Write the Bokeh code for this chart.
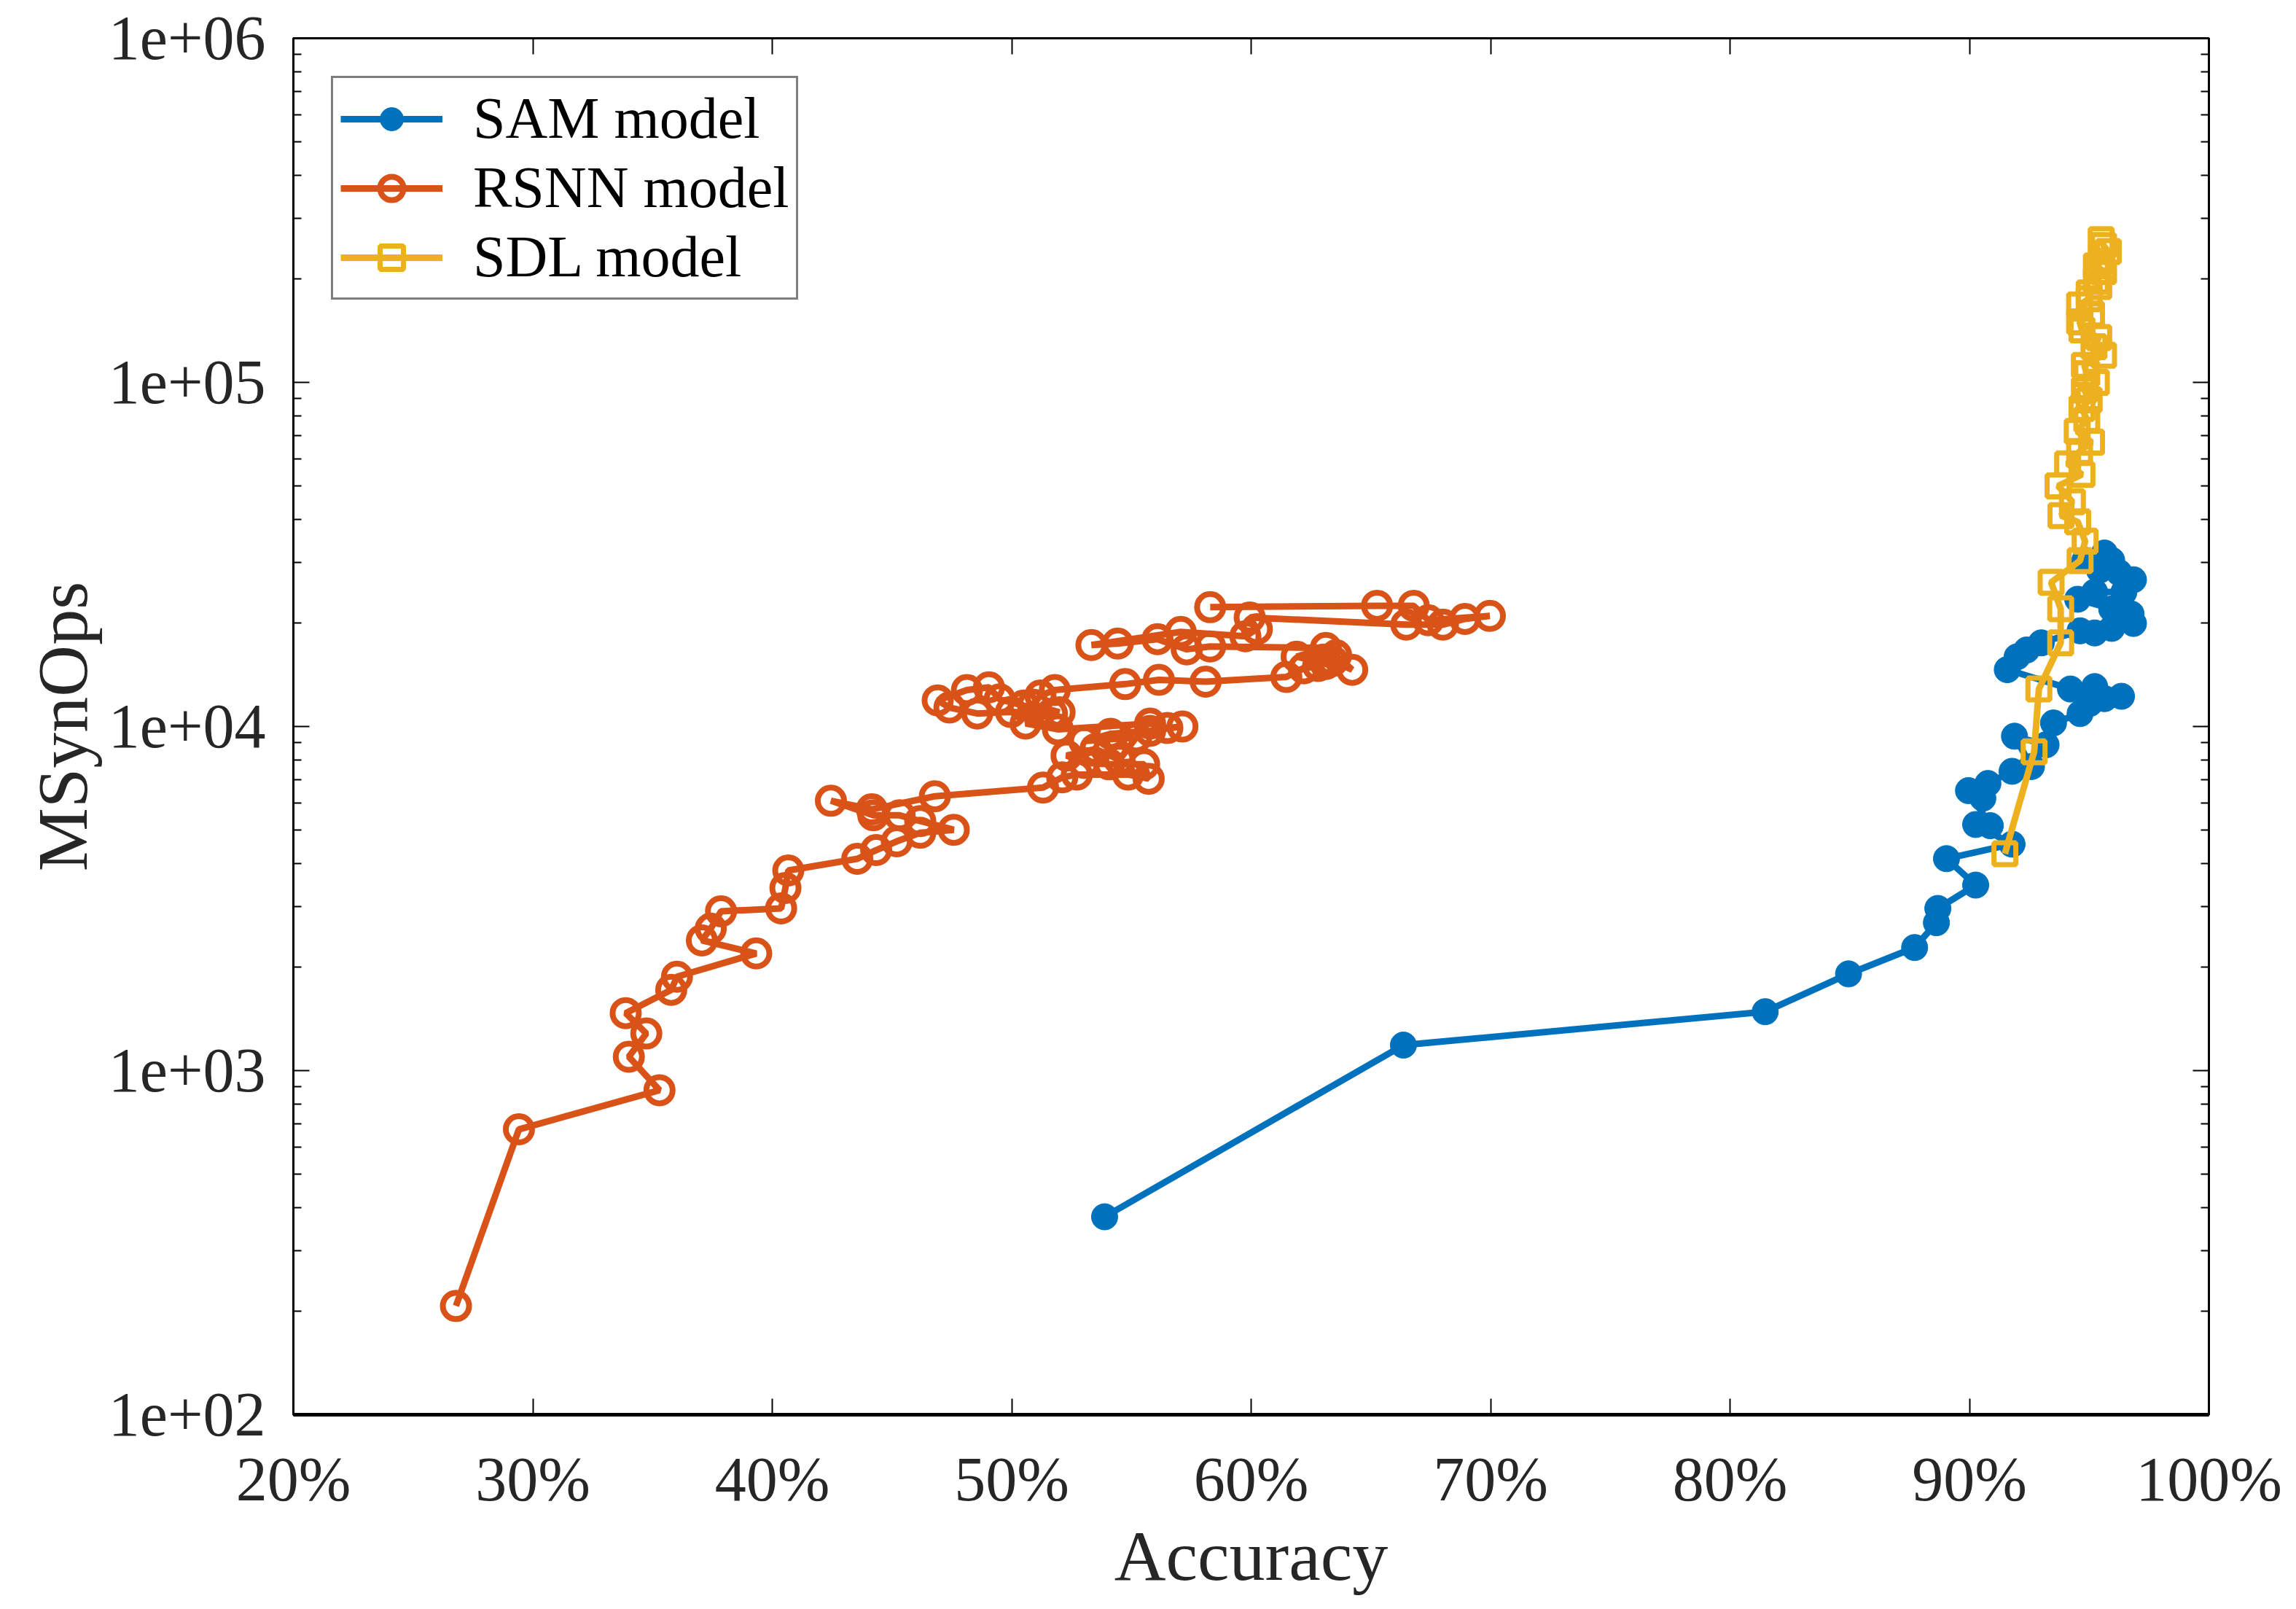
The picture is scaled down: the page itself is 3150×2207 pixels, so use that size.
from bokeh.plotting import figure
from bokeh.models import Range1d, FixedTicker, LinearAxis, LogAxis
from bokeh.embed import file_html
from bokeh.resources import INLINE

# ---------------- data ----------------
sam_acc = [53.88, 66.36, 81.47, 84.95, 87.71, 88.62, 88.68, 90.26, 89.04, 91.78,
           90.26, 90.87, 89.96, 90.56, 90.77, 91.78, 92.59, 91.88, 93.20, 93.51,
           94.62, 95.03, 95.64, 96.35, 95.23, 94.22, 91.58, 91.99, 92.39, 93.00,
           94.62, 95.23, 95.94, 96.85, 96.75, 95.94, 94.52, 95.23, 96.45, 96.85,
           96.25, 95.43, 94.82, 95.64, 95.94]
sam_ops = [376, 1186, 1483, 1910, 2278, 2690, 2960, 3460, 4130, 4550,
           5190, 5150, 6510, 6190, 6830, 7410, 7650, 9370, 8850, 10240,
           10900, 11670, 12050, 12240, 13060, 12850, 14630, 15940, 16680, 17500,
           18970, 18700, 19280, 19930, 21240, 21960, 23430, 24590, 24590, 26700,
           28000, 28450, 30400, 31920, 30400]

rsnn_acc = [26.79, 29.42, 35.29, 34.01, 34.74, 33.88, 35.78, 36.02, 39.33, 37.06,
            37.43, 37.86, 40.37, 40.55, 40.67, 43.55, 44.34, 45.20, 46.18, 47.58,
            46.18, 45.32, 44.22, 42.45, 44.16, 46.79, 51.31, 52.11, 52.72, 54.86,
            55.72, 55.53, 54.07, 53.03, 52.29, 53.50, 54.50, 55.20, 53.03, 54.13,
            55.78, 57.13, 56.50, 55.78, 51.93, 50.58, 51.68, 49.97, 48.56, 47.40,
            46.91, 48.13, 49.05, 49.50, 50.50, 52.00, 50.89, 51.20, 51.80, 54.74,
            56.15, 58.10, 61.47, 62.20, 62.80, 63.00, 63.55, 64.22, 63.40, 63.12,
            61.90, 63.12, 58.29, 57.31, 56.09, 54.43, 53.33, 57.06, 59.76, 60.24,
            59.94, 66.48, 68.01, 68.93, 69.97, 67.40, 66.79, 65.26, 58.29]
rsnn_ops = [207, 675, 877, 1097, 1282, 1469, 1717, 1874, 2190, 2390,
            2585, 2904, 2960, 3395, 3815, 4125, 4373, 4637, 4910, 5010,
            5310, 5520, 5520, 6085, 5745, 6270, 6645, 7115, 7250, 7250,
            7050, 7765, 7765, 7840, 8230, 8600, 8000, 9300, 9070, 9520,
            9710, 10000, 9900, 10200, 9810, 10200, 10910, 11020, 10910, 11350,
            11910, 12760, 13000, 12000, 11500, 11000, 11570, 12300, 12760, 13280,
            13660, 13500, 13930, 14760, 15000, 15640, 16110, 14620, 15500, 15200,
            15960, 16910, 17080, 16760, 17940, 17420, 17250, 18830, 18290, 19190,
            20740, 19770, 19770, 20540, 20960, 20360, 22430, 22430, 22220]

sdl_acc = [91.48, 92.70, 92.90, 93.81, 93.81, 93.41, 94.62, 94.83, 94.52, 93.82,
           94.30, 93.70, 94.70, 94.10, 94.60, 95.10, 94.50, 94.90, 94.70, 95.00,
           94.80, 95.30, 94.90, 94.80, 95.60, 95.20, 95.40, 94.70, 94.60, 95.10,
           94.60, 95.00, 95.00, 95.40, 95.30, 95.60, 95.30, 95.50, 95.80, 95.60,
           95.50]
sdl_ops = [4270, 8440, 12850, 17500, 21990, 26240, 30340, 34560, 39350, 41000,
           45000, 50000, 54000, 58000, 63000, 67000, 72000, 78000, 84000, 89000,
           95000, 100000, 106000, 112000, 120000, 127000, 135000, 142000, 150000, 158000,
           168000, 175000, 182000, 190000, 197000, 210000, 218000, 225000, 240000, 250000,
           260000]

x_ticks = [20, 30, 40, 50, 60, 70, 80, 90, 100]
x_tick_labels = ["20%", "30%", "40%", "50%", "60%", "70%", "80%", "90%", "100%"]
y_ticks = [1e2, 1e3, 1e4, 1e5, 1e6]
y_tick_labels = ["1e+02", "1e+03", "1e+04", "1e+05", "1e+06"]
y_minor = [m * d for d in (1e2, 1e3, 1e4, 1e5) for m in range(2, 10)]

C_SAM, C_RSNN, C_SDL = "#0072BD", "#D95319", "#EDB120"
FONT = "Liberation Serif"
TXT = "#262626"

p = figure(width=3134, height=2190, x_range=Range1d(20, 100), y_range=Range1d(1e2, 1e6),
           y_axis_type="log", output_backend="svg", toolbar_location=None,
           min_border_left=402, min_border_right=104, min_border_top=52, min_border_bottom=245,
           background_fill_color="white", border_fill_color="white")
p.xgrid.visible = False
p.ygrid.visible = False
p.outline_line_color = "black"
p.outline_line_width = 3

def style(ax):
    ax.axis_line_color = "black"
    ax.axis_line_width = 3
    ax.major_tick_in = 22
    ax.major_tick_out = 0
    ax.minor_tick_in = 11
    ax.minor_tick_out = 0
    ax.major_tick_line_width = 2
    ax.minor_tick_line_width = 2
    ax.major_label_text_font = FONT
    ax.major_label_text_color = TXT
    ax.axis_label_text_font = FONT
    ax.axis_label_text_font_style = "normal"
    ax.axis_label_text_color = TXT

xa = p.xaxis[0]
xa.ticker = FixedTicker(ticks=x_ticks)
style(xa)
xa.axis_line_width = 5
xa.major_label_overrides = dict(zip(x_ticks, x_tick_labels))
xa.major_label_text_font_size = "86px"
xa.major_label_standoff = 40
xa.axis_label = "Accuracy"
xa.axis_label_text_font_size = "98px"
xa.axis_label_standoff = 0

ya = p.yaxis[0]
ya.ticker = FixedTicker(ticks=y_ticks, minor_ticks=y_minor)
style(ya)
ya.major_label_overrides = dict(zip(y_ticks, y_tick_labels))
ya.major_label_text_font_size = "86px"
ya.major_label_standoff = 38
ya.axis_label = "MSynOps"
ya.axis_label_text_font_size = "98px"
ya.axis_label_standoff = 6

top = LinearAxis(ticker=FixedTicker(ticks=x_ticks))
style(top)
top.major_label_overrides = {t: "" for t in x_ticks}
top.major_label_standoff = 0
top.major_label_text_font_size = "1px"
p.add_layout(top, "above")

right = LogAxis(ticker=FixedTicker(ticks=y_ticks, minor_ticks=y_minor))
style(right)
right.major_label_overrides = {t: "" for t in y_ticks}
right.major_label_standoff = 0
right.major_label_text_font_size = "1px"
p.add_layout(right, "right")

# ---------------- series ----------------
p.line(sam_acc, sam_ops, line_color=C_SAM, line_width=9, legend_label="SAM model")
p.scatter(sam_acc, sam_ops, marker="circle", size=36, fill_color=C_SAM, line_color=C_SAM,
          legend_label="SAM model")

p.line(rsnn_acc, rsnn_ops, line_color=C_RSNN, line_width=9, legend_label="RSNN model")
p.scatter(rsnn_acc, rsnn_ops, marker="circle", size=36, fill_color="white", fill_alpha=0.0,
          line_color=C_RSNN, line_width=8, legend_label="RSNN model")

p.line(sdl_acc, sdl_ops, line_color=C_SDL, line_width=9, legend_label="SDL model")
p.scatter(sdl_acc, sdl_ops, marker="square", size=30, fill_color="white", fill_alpha=0.0,
          line_color=C_SDL, line_width=7, legend_label="SDL model")

lg = p.legend[0]
lg.location = "top_left"
lg.margin = 52
lg.padding = 10
lg.spacing = 4
lg.glyph_width = 140
lg.glyph_height = 80
lg.label_height = 80
lg.label_standoff = 42
lg.label_text_font = FONT
lg.label_text_font_size = "80px"
lg.label_text_color = "black"
lg.border_line_color = "black"
lg.border_line_width = 3
lg.background_fill_color = "white"
lg.background_fill_alpha = 1.0

open("out.html", "w").write(file_html(p, INLINE))
